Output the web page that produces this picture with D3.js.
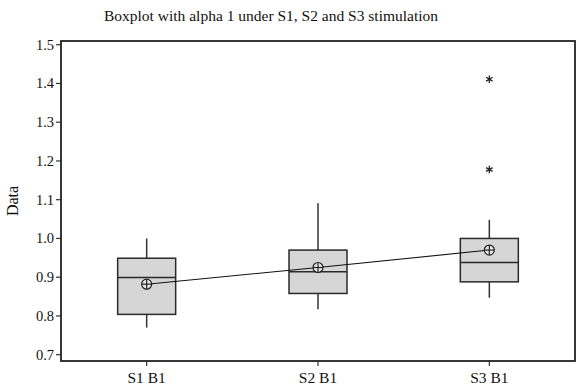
<!DOCTYPE html>
<html>
<head>
<meta charset="utf-8">
<script src="https://cdn.jsdelivr.net/npm/d3@7"></script>
<style>
  body { margin: 0; background: #fff; }
  text { font-family: "Liberation Serif", "Times New Roman", serif; fill: #111; }
</style>
</head>
<body>
<div id="plot"></div>
<script>
// values
const groups = ["S1 B1", "S2 B1", "S3 B1"];
const whiskerLow = [0.770, 0.817, 0.847];
const q1 = [0.804, 0.858, 0.888];
const median = [0.899, 0.914, 0.938];
const q3 = [0.949, 0.970, 1.000];
const whiskerHigh = [1.000, 1.091, 1.048];
const means = [0.882, 0.925, 0.970];
const outliers = [[], [], [1.411, 1.178]];
const yTicks = [0.7, 0.8, 0.9, 1.0, 1.1, 1.2, 1.3, 1.4, 1.5];

const width = 577, height = 386;
const frame = { left: 61, right: 575, top: 41, bottom: 361 };

const svg = d3.select('#plot').append('svg')
  .attr('width', width)
  .attr('height', height);

const x = d3.scaleLinear()
  .domain([0.5, 3.5])
  .range([frame.left, frame.right]);
const y = d3.scaleLinear()
  .domain([0.7, 1.5])
  .range([354.7, 44.7]);

const boxHalf = 29;
const data = groups.map((g, i) => ({
  name: g, pos: i + 1,
  lo: whiskerLow[i], q1: q1[i], med: median[i], q3: q3[i], hi: whiskerHigh[i],
  mean: means[i], out: outliers[i]
}));

// title
svg.append('text')
  .attr('x', 271)
  .attr('y', 21)
  .attr('text-anchor', 'middle')
  .style('font-size', '15.5px')
  .text('Boxplot with alpha 1 under S1, S2 and S3 stimulation');

// y axis label
svg.append('text')
  .attr('transform', 'translate(18,201) rotate(-90)')
  .attr('text-anchor', 'middle')
  .style('font-size', '16px')
  .text('Data');

// y ticks
const yAxis = svg.append('g');
yAxis.selectAll('line').data(yTicks).enter().append('line')
  .attr('x1', frame.left - 5).attr('x2', frame.left)
  .attr('y1', d => y(d)).attr('y2', d => y(d))
  .attr('stroke', '#333').attr('stroke-width', 1.2);
yAxis.selectAll('text').data(yTicks).enter().append('text')
  .attr('x', frame.left - 7)
  .attr('y', d => y(d) + 5)
  .attr('text-anchor', 'end')
  .style('font-size', '14.5px')
  .text(d => d.toFixed(1));

// x ticks
const xAxis = svg.append('g');
xAxis.selectAll('line').data(data).enter().append('line')
  .attr('x1', d => x(d.pos)).attr('x2', d => x(d.pos))
  .attr('y1', frame.bottom).attr('y2', frame.bottom + 5)
  .attr('stroke', '#333').attr('stroke-width', 1.2);
xAxis.selectAll('text').data(data).enter().append('text')
  .attr('x', d => x(d.pos))
  .attr('y', 383)
  .attr('text-anchor', 'middle')
  .style('font-size', '15.5px')
  .text(d => d.name);

// frame
svg.append('rect')
  .attr('x', frame.left).attr('y', frame.top)
  .attr('width', frame.right - frame.left)
  .attr('height', frame.bottom - frame.top)
  .attr('fill', 'none')
  .attr('stroke', '#222')
  .attr('stroke-width', 1.8);

// boxes
const boxG = svg.append('g');
const box = boxG.selectAll('g').data(data).enter().append('g');
box.append('line')
  .attr('x1', d => x(d.pos)).attr('x2', d => x(d.pos))
  .attr('y1', d => y(d.q3)).attr('y2', d => y(d.hi))
  .attr('stroke', '#333').attr('stroke-width', 1.5);
box.append('line')
  .attr('x1', d => x(d.pos)).attr('x2', d => x(d.pos))
  .attr('y1', d => y(d.q1)).attr('y2', d => y(d.lo))
  .attr('stroke', '#333').attr('stroke-width', 1.5);
box.append('rect')
  .attr('x', d => x(d.pos) - boxHalf)
  .attr('y', d => y(d.q3))
  .attr('width', boxHalf * 2)
  .attr('height', d => y(d.q1) - y(d.q3))
  .attr('fill', '#d6d6d6')
  .attr('stroke', '#2a2a2a')
  .attr('stroke-width', 1.5);
box.append('line')
  .attr('x1', d => x(d.pos) - boxHalf).attr('x2', d => x(d.pos) + boxHalf)
  .attr('y1', d => y(d.med)).attr('y2', d => y(d.med))
  .attr('stroke', '#2a2a2a').attr('stroke-width', 1.5);

// outliers
const star = d3.symbol().type(d3.symbolAsterisk).size(40);
box.selectAll('.out').data(d => d.out.map(v => ({ pos: d.pos, v }))).enter().append('path')
  .attr('class', 'out')
  .attr('d', star)
  .attr('transform', d => `translate(${x(d.pos)},${y(d.v)})`)
  .attr('fill', 'none')
  .attr('stroke', '#222')
  .attr('stroke-width', 1.3);

// mean connect line
const line = d3.line()
  .x(d => x(d.pos))
  .y(d => y(d.mean));
svg.append('path')
  .datum(data)
  .attr('d', line)
  .attr('fill', 'none')
  .attr('stroke', '#111')
  .attr('stroke-width', 1.1);

// mean symbols
const meanG = svg.selectAll('.mean').data(data).enter().append('g')
  .attr('class', 'mean')
  .attr('transform', d => `translate(${x(d.pos)},${y(d.mean)})`);
meanG.append('circle')
  .attr('r', 5)
  .attr('fill', '#e6e6e6')
  .attr('stroke', '#222')
  .attr('stroke-width', 1.2);
meanG.append('line')
  .attr('x1', -5).attr('x2', 5)
  .attr('stroke', '#222').attr('stroke-width', 1.2);
meanG.append('line')
  .attr('y1', -5).attr('y2', 5)
  .attr('stroke', '#222').attr('stroke-width', 1.2);
</script>
</body>
</html>
